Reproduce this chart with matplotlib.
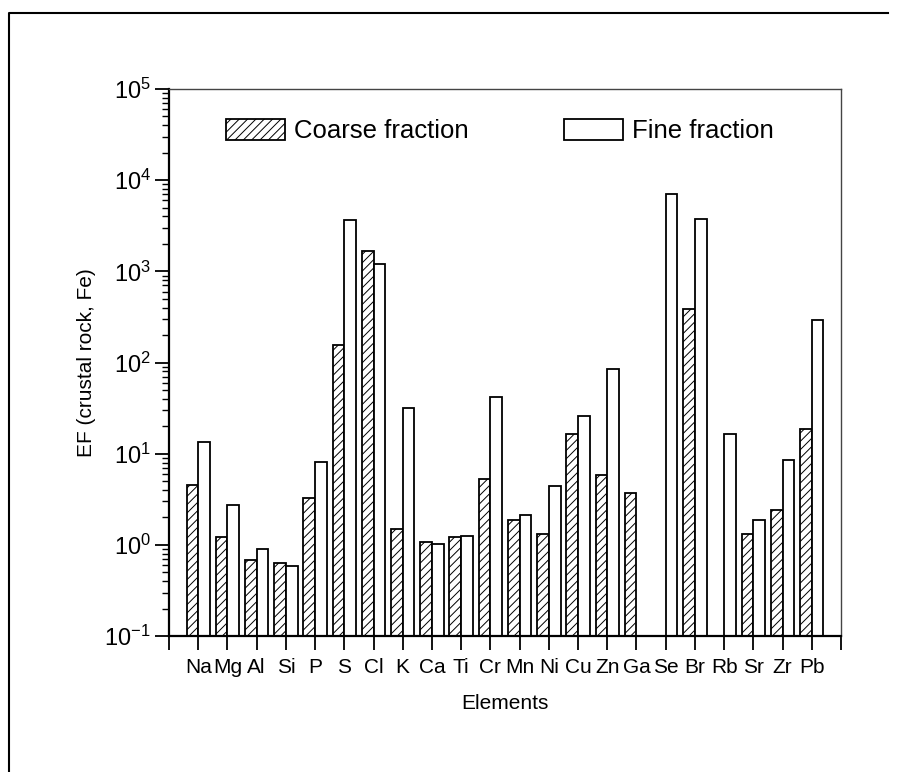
import numpy as np
import matplotlib
matplotlib.use('Agg')
import matplotlib.pyplot as plt
from matplotlib.lines import Line2D

plt.rcParams['font.family'] = ['Liberation Sans', 'DejaVu Sans']
plt.rcParams['mathtext.fontset'] = 'custom'
plt.rcParams['mathtext.rm'] = 'Liberation Sans'
plt.rcParams['hatch.linewidth'] = 0.7

# Enrichment factors (nan = no bar)
elements = ['Na', 'Mg', 'Al', 'Si', 'P', 'S', 'Cl', 'K', 'Ca', 'Ti', 'Cr',
            'Mn', 'Ni', 'Cu', 'Zn', 'Ga', 'Se', 'Br', 'Rb', 'Sr', 'Zr', 'Pb']
coarse = [4.5, 1.23, 0.68, 0.63, 3.24, 155, 1680, 1.48, 1.08, 1.22, 5.27,
          1.89, 1.32, 16.4, 5.83, 3.70, np.nan, 383, np.nan, 1.30, 2.39, 18.5]
fine = [13.5, 2.73, 0.90, 0.59, 8.2, 3650, 1200, 31.7, 1.01, 1.24, 42,
        2.14, 4.45, 26.1, 84, np.nan, 7050, 3750, 16.4, 1.89, 8.5, 292]

x = np.arange(1, len(elements) + 1)
coarse = np.array(coarse)
fine = np.array(fine)
w = 0.4

fig = plt.figure(figsize=(9, 7.72), dpi=100)
ax = fig.add_axes([169 / 900, 136 / 772, 672 / 900, 547 / 772])
ax.set_yscale('log')

mc = ~np.isnan(coarse)
mf = ~np.isnan(fine)
ax.bar(x[mc] - w / 2, coarse[mc], width=w, facecolor='white',
       edgecolor='black', linewidth=1.3, hatch='////', label='Coarse fraction')
ax.bar(x[mf] + w / 2, fine[mf], width=w, facecolor='white',
       edgecolor='black', linewidth=1.3, label='Fine fraction')

ax.set_xlim(0, len(elements) + 1)
ax.set_ylim(0.1, 1e5)
ax.set_xticks(np.arange(0, len(elements) + 2))
ax.set_xticklabels([''] + elements + [''])

ax.tick_params(axis='both', which='major', direction='out',
               width=1.3, length=10)
ax.tick_params(axis='x', labelsize=15, pad=6)
ax.tick_params(axis='y', labelsize=17, pad=3)
ax.tick_params(axis='y', which='minor', direction='out', width=1.0, length=5)

for s in ['left', 'bottom']:
    ax.spines[s].set_linewidth(1.6)
for s in ['top', 'right']:
    ax.spines[s].set_linewidth(1.0)
    ax.spines[s].set_color('#444444')

ax.set_xlabel('Elements', fontsize=15, labelpad=12)
ax.set_ylabel('EF (crustal rock, Fe)', fontsize=15, labelpad=6)

ax.legend(loc='center left', bbox_to_anchor=(0.085, 0.923), ncol=2,
          frameon=False, fontsize=18.5, handlelength=2.3, handleheight=0.9,
          handletextpad=0.35, columnspacing=3.7, borderpad=0,
          borderaxespad=0)

# outer frame lines (left and top)
fig.add_artist(Line2D([9 / 900, 9 / 900, 888 / 900], [0, 1 - 13 / 772, 1 - 13 / 772],
                      transform=fig.transFigure, color='black', linewidth=1.5))

fig.savefig('out.png', dpi=100)
